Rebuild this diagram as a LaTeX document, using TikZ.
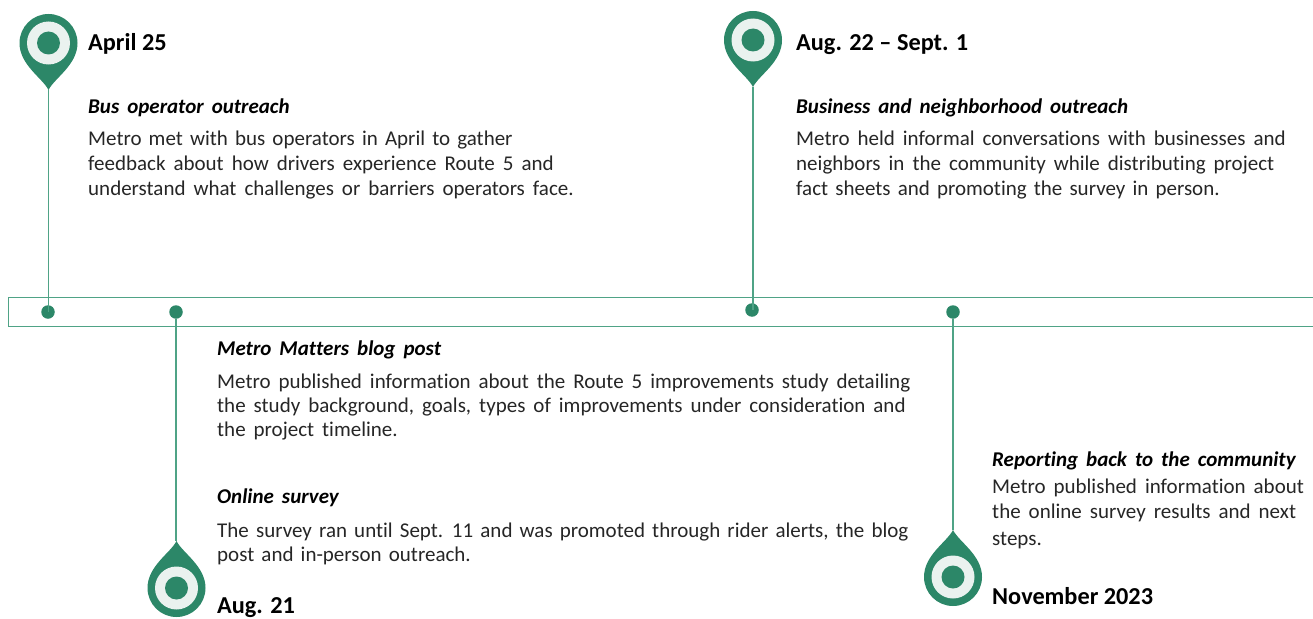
\documentclass[tikz,border=0pt]{standalone}
\usepackage{fontspec}
\setmainfont[Ligatures=NoCommon]{Carlito}
\newcommand{\widewords}{\spaceskip=8pt\relax}
\newcommand{\tightwords}{\spaceskip=7.15pt\relax}
\definecolor{pingreen}{HTML}{2C8768}
\definecolor{pinlight}{HTML}{EAF2EF}
\definecolor{linegreen}{HTML}{4FA386}
\definecolor{textgrey}{HTML}{262626}
\tikzset{
  x=1pt,y=-1pt,
  datelabel/.style={anchor=base west,inner sep=0pt,font=\fontsize{24.3}{26}\selectfont\bfseries,text=black},
  headlabel/.style={anchor=base west,inner sep=0pt,font=\fontsize{21}{24}\selectfont\bfseries\itshape\widewords,text=black},
  bodylabel/.style={anchor=base west,inner sep=0pt,font=\fontsize{21}{24}\selectfont\widewords,text=textgrey},
  connector/.style={draw=linegreen,line width=1.3pt},
  dotmark/.style={circle,fill=pingreen,draw=none,minimum size=13.5pt,inner sep=0pt},
  ringmark/.style={circle,fill=pinlight,draw=none,minimum size=43pt,inner sep=0pt},
  coremark/.style={circle,fill=pingreen,draw=none,minimum size=23pt,inner sep=0pt},
}
% #1 name, #2 x, #3 y centre, #4 sign of tip direction (1 down, -1 up)
\newcommand{\mappin}[4]{%
  \fill[pingreen] (#2,#3+#4*47)
    .. controls (#2-6,#3+#4*35) and (#2-29,#3+#4*22) .. (#2-29,#3)
    arc[start angle=180,end angle=0,radius=29,y radius=-#4*29]
    .. controls (#2+29,#3+#4*22) and (#2+6,#3+#4*35) .. (#2,#3+#4*47) -- cycle;
  \node[ringmark] at (#2,#3) {};
  \node[coremark] (#1) at (#2,#3) {};
  \coordinate (#1tip) at (#2,#3+#4*47);
}
\begin{document}
\begin{tikzpicture}
\useasboundingbox (0,0) rectangle (1313,618);
\fill[white] (0,0) rectangle (1313,618);
\node[draw=linegreen,line width=1.3pt,minimum width=1306pt,minimum height=29pt,inner sep=0pt,anchor=north west] (bar) at (8,297) {};
\node[dotmark] (d1) at (48,312) {};
\node[dotmark] (d2) at (176,312) {};
\node[dotmark] (d3) at (752,310) {};
\node[dotmark] (d4) at (953,312) {};
\mappin{p1}{48.5}{43}{1}
\mappin{p2}{753}{40}{1}
\mappin{p3}{176.5}{588}{-1}
\mappin{p4}{953}{577}{-1}
\draw[connector] (p1tip) -- (p1tip |- d1);
\draw[connector] (p2tip) -- (p2tip |- d3);
\draw[connector] (d2) -- (d2 |- p3tip);
\draw[connector] (d4) -- (d4 |- p4tip);
\node[datelabel] (a1) at (88,51) {April 25};
\node[headlabel] (a2) at (88,113) {Bus operator outreach};
\node[bodylabel] (a3) at (88,145) {\tightwords Metro met with bus operators in April to gather};
\node[bodylabel] (a4) at (88,170) {feedback about how drivers experience Route 5 and};
\node[bodylabel] (a5) at (88,195) {understand what challenges or barriers operators face.};
\node[datelabel] (b1) at (796,51) {Aug. 22 – Sept. 1};
\node[headlabel] (b2) at (796,113) {Business and neighborhood outreach};
\node[bodylabel] (b3) at (796,145) {Metro held informal conversations with businesses and};
\node[bodylabel] (b4) at (796,170) {neighbors in the community while distributing project};
\node[bodylabel] (b5) at (796,195) {\tightwords fact sheets and promoting the survey in person.};
\node[headlabel] (c1) at (217,355) {Metro Matters blog post};
\node[bodylabel] (c2) at (217,388) {Metro published information about the Route 5 improvements study detailing};
\node[bodylabel] (c3) at (217,412) {the study background, goals, types of improvements under consideration and};
\node[bodylabel] (c4) at (217,436) {the project timeline.};
\node[headlabel] (c5) at (217,503) {Online survey};
\node[bodylabel] (c6) at (217,537) {\tightwords The survey ran until Sept. 11 and was promoted through rider alerts, the blog};
\node[bodylabel] (c7) at (217,561) {\tightwords post and in-person outreach.};
\node[datelabel] (c8) at (217,613) {Aug. 21};
\node[headlabel] (e1) at (992,466) {Reporting back to the community};
\node[bodylabel] (e2) at (992,493) {Metro published information about};
\node[bodylabel] (e3) at (992,518) {the online survey results and next};
\node[bodylabel] (e4) at (992,545) {steps.};
\node[datelabel] (e5) at (992,604) {November 2023};
\end{tikzpicture}
\end{document}
